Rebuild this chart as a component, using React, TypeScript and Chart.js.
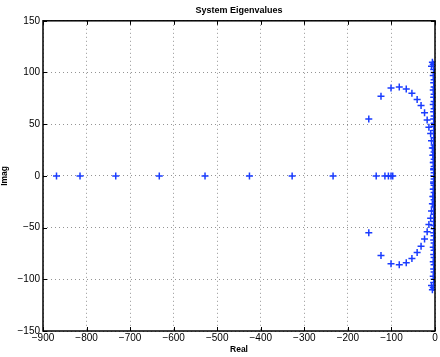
import React, { useEffect, useRef } from "react";
import { Chart, registerables } from "chart.js";

Chart.register(...registerables);

const chartTitle = "System Eigenvalues";
const xAxisTitle = "Real";
const yAxisTitle = "Imag";
const xTicks = [-900, -800, -700, -600, -500, -400, -300, -200, -100, 0];
const yTicks = [-150, -100, -50, 0, 50, 100, 150];

// Real-axis eigenvalues
const realAxisX = [-869, -815, -733, -633, -528, -426, -328, -234, -135, -115, -107, -101, -97, -3];
const realAxisY = [0, 0, 0, 0, 0, 0, 0, 0, 0, 0, 0, 0, 0, 0];

// Upper arc
const upperArcX = [-152, -124, -101, -82, -66, -53, -41, -32, -24, -18, -14, -10, -8, -6, -5, -4, -3];
const upperArcY = [55, 77, 85, 86, 84, 80, 74, 68, 61, 54, 47, 41, 34, 27, 20, 13, 7];

// Lower arc
const lowerArcX = [-152, -124, -101, -82, -66, -53, -41, -32, -24, -18, -14, -10, -8, -6, -5, -4, -3];
const lowerArcY = [-55, -77, -85, -86, -84, -80, -74, -68, -61, -54, -47, -41, -34, -27, -20, -13, -7];

// Near-imaginary-axis column (upper)
const upperColX = [-6, -4, -8, -3, -2, -4, -2, -3, -2, -4, -2, -3, -2, -4, -2, -3, -2, -3, -2, -3, -2, -3, -2, -3, -2, -3, -2, -3, -2, -3, -2, -3, -2];
const upperColY = [110, 108, 106, 103, 100, 97, 93, 90, 86, 83, 79, 76, 72, 69, 65, 62, 58, 55, 51, 48, 44, 41, 37, 34, 30, 27, 23, 20, 16, 13, 9, 6, 3];

// Near-imaginary-axis column (lower)
const lowerColX = [-6, -4, -8, -3, -2, -4, -2, -3, -2, -4, -2, -3, -2, -4, -2, -3, -2, -3, -2, -3, -2, -3, -2, -3, -2, -3, -2, -3, -2, -3, -2, -3, -2];
const lowerColY = [-110, -108, -106, -103, -100, -97, -93, -90, -86, -83, -79, -76, -72, -69, -65, -62, -58, -55, -51, -48, -44, -41, -37, -34, -30, -27, -23, -20, -16, -13, -9, -6, -3];

const MARKER = "#1a3cff";
const FONT = "'Liberation Sans', Arial, Helvetica, sans-serif";

const toPoints = (xs: number[], ys: number[]) => xs.map((x, i) => ({ x, y: ys[i] }));

const framePlugin = {
  id: "matlabFrame",
  afterDraw(chart: any) {
    const { ctx, chartArea, scales } = chart;
    const { left, right, top, bottom } = chartArea;
    ctx.save();
    ctx.strokeStyle = "#000";
    ctx.lineWidth = 1;
    const tl = 4;
    ctx.beginPath();
    for (const v of xTicks) {
      const px = Math.round(scales.x.getPixelForValue(v)) + 0.5;
      ctx.moveTo(px, bottom);
      ctx.lineTo(px, bottom - tl);
      ctx.moveTo(px, top);
      ctx.lineTo(px, top + tl);
    }
    for (const v of yTicks) {
      const py = Math.round(scales.y.getPixelForValue(v)) + 0.5;
      ctx.moveTo(left, py);
      ctx.lineTo(left + tl, py);
      ctx.moveTo(right, py);
      ctx.lineTo(right - tl, py);
    }
    ctx.stroke();
    ctx.lineWidth = 1.5;
    ctx.strokeRect(left, top, right - left, bottom - top);
    ctx.restore();
  },
};

export default function App() {
  const canvasRef = useRef<HTMLCanvasElement | null>(null);

  useEffect(() => {
    document.body.style.margin = "0";
    const canvas = canvasRef.current;
    if (!canvas) return;
    const ds = (data: { x: number; y: number }[]) => ({
      data,
      showLine: false,
      pointStyle: "cross" as const,
      pointRadius: 3.5,
      pointHoverRadius: 3.5,
      pointBorderWidth: 1.5,
      borderColor: MARKER,
      backgroundColor: MARKER,
    });
    const fmt = (v: any) => String(v).replace("-", "\u2212");
    const chart = new Chart(canvas, {
      type: "scatter",
      data: {
        datasets: [
          ds(toPoints(realAxisX, realAxisY)),
          ds(toPoints(upperArcX, upperArcY)),
          ds(toPoints(lowerArcX, lowerArcY)),
          ds(toPoints(upperColX, upperColY)),
          ds(toPoints(lowerColX, lowerColY)),
        ],
      },
      options: {
        animation: false,
        responsive: false,
        maintainAspectRatio: false,
        layout: { padding: { left: 0, right: 3, top: 0, bottom: 0 } },
        plugins: {
          legend: { display: false },
          tooltip: { enabled: false },
          title: {
            display: true,
            text: chartTitle,
            fullSize: false,
            color: "#000",
            font: { family: FONT, size: 9, weight: "bold" },
            padding: { top: 5, bottom: 5 },
          },
        },
        scales: {
          x: {
            type: "linear",
            min: -900,
            max: 0,
            afterBuildTicks: (s: any) => {
              s.ticks = xTicks.map((v) => ({ value: v }));
            },
            afterFit: (s: any) => {
              s.height = 26;
            },
            ticks: {
              color: "#000",
              font: { family: FONT, size: 10 },
              padding: 1,
              maxRotation: 0,
              autoSkip: false,
              callback: fmt,
            },
            grid: { color: "rgba(0,0,0,0.42)", drawTicks: false, lineWidth: 1 },
            border: { display: false, dash: [1, 3] },
            title: {
              display: true,
              text: xAxisTitle,
              color: "#000",
              font: { family: FONT, size: 8.5, weight: "bold" },
              padding: { top: 0, bottom: 2 },
            },
          },
          y: {
            type: "linear",
            min: -150,
            max: 150,
            afterBuildTicks: (s: any) => {
              s.ticks = yTicks.map((v) => ({ value: v }));
            },
            afterFit: (s: any) => {
              s.width = 43;
            },
            ticks: {
              color: "#000",
              font: { family: FONT, size: 10 },
              padding: 3,
              autoSkip: false,
              callback: fmt,
            },
            grid: { color: "rgba(0,0,0,0.42)", drawTicks: false, lineWidth: 1 },
            border: { display: false, dash: [1, 3] },
            title: {
              display: true,
              text: yAxisTitle,
              color: "#000",
              font: { family: FONT, size: 8.5, weight: "bold" },
              padding: { top: 0, bottom: 0 },
            },
          },
        },
      },
      plugins: [framePlugin],
    });
    return () => chart.destroy();
  }, []);

  return (
    <div style={{ position: "absolute", left: 0, top: 0, width: 440, height: 357, background: "#fff" }}>
      <canvas ref={canvasRef} width={440} height={357} style={{ width: 440, height: 357, display: "block" }} />
    </div>
  );
}
